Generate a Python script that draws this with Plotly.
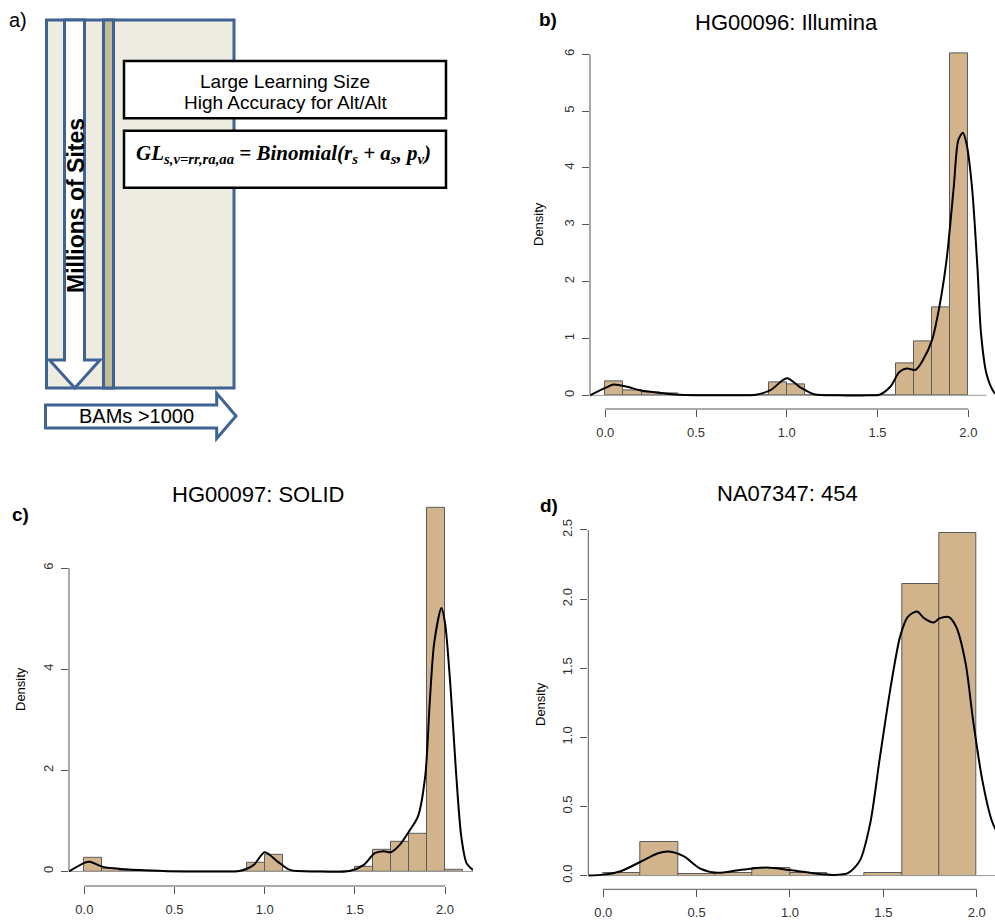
import plotly.graph_objects as go

W, H = 995, 923

# ---------------- data ----------------
# b) HG00096: Illumina  (bin width 0.1, edges 0.0 .. 2.0)
b_edges = [round(0.1 * i, 2) for i in range(21)]
b_density = [0.25, 0.08, 0.05, 0.03, 0, 0, 0, 0, 0, 0.22,
             0.19, 0, 0, 0, 0, 0, 0.57, 0.94, 1.55, 6.02]
b_kde_x = [-0.084, 0.0, 0.044, 0.12, 0.19, 0.28, 0.41, 0.56, 0.70, 0.83, 0.91, 1.0, 1.07, 1.15,
           1.29, 1.45, 1.51, 1.57, 1.62, 1.66, 1.71, 1.75, 1.80, 1.84, 1.88, 1.92, 1.945,
           1.97, 1.99, 2.02, 2.05, 2.07, 2.10, 2.14, 2.16]
b_kde_y = [0.0, 0.13, 0.19, 0.15, 0.09, 0.05, 0.01, 0.0, 0.0, 0.01, 0.09, 0.30, 0.15, 0.02,
           0.0, 0.0, 0.01, 0.15, 0.41, 0.47, 0.45, 0.62, 0.97, 1.55, 2.38, 3.67, 4.49,
           4.62, 4.43, 3.67, 2.26, 1.09, 0.38, 0.06, 0.0]

# c) HG00097: SOLID  (bin width 0.1, edges 0.0 .. 2.1)
c_edges = [round(0.1 * i, 2) for i in range(22)]
c_density = [0.26, 0.06, 0.02, 0.02, 0, 0, 0, 0, 0, 0.18, 0.33,
             0, 0, 0, 0, 0.085, 0.43, 0.59, 0.74, 7.2, 0.04]
c_kde_x = [-0.085, 0.0, 0.03, 0.105, 0.2, 0.36, 0.55, 0.72, 0.86, 0.94, 1.0, 1.07, 1.14,
           1.29, 1.47, 1.55, 1.61, 1.66, 1.70, 1.75, 1.80, 1.85, 1.89, 1.915, 1.94,
           1.98, 2.0, 2.03, 2.06, 2.09, 2.12, 2.155]
c_kde_y = [0.0, 0.17, 0.19, 0.09, 0.05, 0.02, 0.0, 0.0, 0.01, 0.13, 0.38, 0.20, 0.03,
           0.0, 0.01, 0.13, 0.36, 0.40, 0.38, 0.53, 0.79, 1.09, 1.88, 3.33, 4.52,
           5.21, 4.91, 3.66, 2.01, 0.69, 0.16, 0.03]

# d) NA07347: 454  (bin width 0.2, edges 0.0 .. 2.0)
d_edges = [round(0.2 * i, 2) for i in range(11)]
d_density = [0.02, 0.246, 0.01, 0.017, 0.058, 0.02, 0, 0.017, 2.11, 2.48]
d_kde_x = [-0.08, 0.0, 0.09, 0.2, 0.29, 0.35, 0.43, 0.52, 0.61, 0.73, 0.875, 1.0, 1.125,
           1.23, 1.31, 1.375, 1.43, 1.48, 1.54, 1.59, 1.63, 1.68, 1.72, 1.77, 1.80,
           1.85, 1.89, 1.94, 1.98, 2.03, 2.08, 2.12]
d_kde_y = [0.0, 0.007, 0.03, 0.10, 0.16, 0.174, 0.14, 0.05, 0.02, 0.04, 0.058, 0.04, 0.017,
           0.005, 0.017, 0.11, 0.38, 0.84, 1.37, 1.73, 1.87, 1.91, 1.86, 1.83, 1.86,
           1.87, 1.80, 1.54, 1.13, 0.69, 0.40, 0.28]

x_ticks = [0.0, 0.5, 1.0, 1.5, 2.0]
x_ticktext = ["0.0", "0.5", "1.0", "1.5", "2.0"]
b_yticks = [0, 1, 2, 3, 4, 5, 6]
c_yticks = [0, 2, 4, 6]
d_yticks = [0.0, 0.5, 1.0, 1.5, 2.0, 2.5]
d_yticktext = ["0.0", "0.5", "1.0", "1.5", "2.0", "2.5"]

titles = ["HG00096: Illumina", "HG00097: SOLID", "NA07347: 454"]

# ---------------- styling ----------------
BAR_FILL = "#D2B48C"
BAR_LINE = "#5a5a5a"
AXIS_COL = "#555555"
TICK_FONT = dict(family="Liberation Sans, Arial", size=13, color="#333333")
SANS = "Liberation Sans, Arial"

def pxx(px):
    return px / W

def pxy(py):
    return 1 - py / H

fig = go.Figure()

panels = [
    dict(edges=b_edges, dens=b_density, kx=b_kde_x, ky=b_kde_y, xa="x", ya="y",
         yt=b_yticks, ytt=[str(v) for v in b_yticks],
         xr=[-0.0843, 2.147], yr=[-0.2408, 6.2608],
         xd=[pxx(590), 1.0], yd=[pxy(409), pxy(39.4)], base_end=2.10),
    dict(edges=c_edges, dens=c_density, kx=c_kde_x, ky=c_kde_y, xa="x2", ya="y2",
         yt=c_yticks, ytt=[str(v) for v in c_yticks],
         xr=[-0.085, 2.155], yr=[-0.288, 7.488],
         xd=[pxx(69), pxx(473)], yd=[pxy(886), pxy(492.8)], base_end=2.155),
    dict(edges=d_edges, dens=d_density, kx=d_kde_x, ky=d_kde_y, xa="x3", ya="y3",
         yt=d_yticks, ytt=d_yticktext,
         xr=[-0.080, 2.098], yr=[-0.0992, 2.579],
         xd=[pxx(588.3), 1.0], yd=[pxy(889.3), pxy(519)], base_end=2.098),
]

shapes = []
for i, p in enumerate(panels):
    e = p["edges"]
    centers = [(e[k] + e[k + 1]) / 2 for k in range(len(p["dens"]))]
    widths = [e[k + 1] - e[k] for k in range(len(p["dens"]))]
    # zero line (drawn under bars)
    fig.add_trace(go.Scatter(x=[p["xr"][0], p["base_end"]], y=[0, 0], mode="lines",
                             line=dict(color="#9a9a9a", width=1),
                             xaxis=p["xa"], yaxis=p["ya"], hoverinfo="skip"))
    fig.add_trace(go.Bar(x=centers, y=p["dens"], width=widths,
                         marker=dict(color=BAR_FILL, line=dict(color=BAR_LINE, width=1)),
                         xaxis=p["xa"], yaxis=p["ya"]))
    fig.add_trace(go.Scatter(x=p["kx"], y=p["ky"], mode="lines",
                             line=dict(color="black", width=2, shape="spline", smoothing=0.8),
                             xaxis=p["xa"], yaxis=p["ya"]))
    sfx = "" if i == 0 else str(i + 1)
    fig.update_layout(**{
        "xaxis" + sfx: dict(domain=p["xd"], range=p["xr"], anchor=p["ya"],
                            showline=False, showgrid=False, zeroline=False,
                            ticks="outside", ticklen=7, tickcolor=AXIS_COL, tickwidth=1,
                            tickvals=x_ticks, ticktext=x_ticktext, tickfont=TICK_FONT,
                            ticklabelstandoff=4),
        "yaxis" + sfx: dict(domain=p["yd"], range=p["yr"], anchor=p["xa"],
                            showline=False, showgrid=False, zeroline=False,
                            ticks="outside", ticklen=7, tickcolor=AXIS_COL, tickwidth=1,
                            tickvals=p["yt"], ticktext=p["ytt"], tickangle=-90,
                            tickfont=TICK_FONT, ticklabelstandoff=3),
    })
    # R-style axis lines spanning only the tick range
    shapes.append(dict(type="line", xref=p["xa"], yref=p["ya"] + " domain",
                       x0=x_ticks[0], x1=x_ticks[-1], y0=0, y1=0,
                       line=dict(color=AXIS_COL, width=1)))
    shapes.append(dict(type="line", xref=p["xa"] + " domain", yref=p["ya"],
                       x0=0, x1=0, y0=p["yt"][0], y1=p["yt"][-1],
                       line=dict(color=AXIS_COL, width=1)))

# ---------------- panel a diagram ----------------
BLUE = "#3E6394"
BEIGE = "#EEECE1"
TANSTRIP = "#C4BD97"

def rect(x0, y0, x1, y1, fill, color, width):
    return dict(type="rect", xref="paper", yref="paper",
                x0=pxx(x0), x1=pxx(x1), y0=pxy(y1), y1=pxy(y0),
                fillcolor=fill, line=dict(color=color, width=width), layer="above")

def path(pts, fill, color, width):
    d = "M " + " L ".join(f"{pxx(a):.5f},{pxy(b):.5f}" for a, b in pts) + " Z"
    return dict(type="path", xref="paper", yref="paper", path=d,
                fillcolor=fill, line=dict(color=color, width=width), layer="above")

shapes.append(rect(46.5, 20, 234, 388, BEIGE, BLUE, 3))
shapes.append(path([(64.5, 20), (84.5, 20), (84.5, 360), (100, 360), (74.8, 388),
                    (49.5, 360), (64.5, 360)], "white", BLUE, 3))
shapes.append(rect(103.5, 20, 113.5, 388, TANSTRIP, BLUE, 3))
shapes.append(rect(124, 61, 446, 118.3, "white", "black", 2.5))
shapes.append(rect(124, 130.7, 446, 187.7, "white", "black", 2.5))
shapes.append(path([(45.5, 405), (216.7, 405), (216.7, 393.3), (236, 416),
                    (216.7, 438.5), (216.7, 428), (45.5, 428)], "white", BLUE, 3))

annotations = []

def text(px, py, s, size, family=SANS, color="black", angle=0, **kw):
    annotations.append(dict(x=pxx(px), y=pxy(py), xref="paper", yref="paper",
                            text=s, showarrow=False, textangle=angle,
                            xanchor="center", yanchor="middle",
                            font=dict(family=family, size=size, color=color), **kw))

text(285, 81, "Large Learning Size", 19)
text(285, 102, "High Accuracy for Alt/Alt", 19)
text(283, 154, "<b><i>GL<sub>s,v=rr,ra,aa</sub> = Binomial(r<sub>s</sub> + a<sub>s</sub>, "
               "p<sub>v</sub>)</i></b>", 21, family="Liberation Serif, Times New Roman")
text(76, 206, "<b>Millions of Sites</b>", 23, angle=-90)
text(136.5, 416, "BAMs >1000", 20)

# panel letters
text(18, 20, "a)", 20)
text(548, 19, "<b>b)</b>", 19)
text(20, 514, "<b>c)</b>", 19)
text(549, 505, "<b>d)</b>", 19)

# titles
text(786.7, 22, titles[0], 22)
text(258.3, 495, titles[1], 22)
text(787.3, 494, titles[2], 22)

# y-axis labels
text(538, 224, "Density", 13, angle=-90)
text(20, 689, "Density", 13, angle=-90)
text(540, 704, "Density", 13, angle=-90)

fig.update_layout(width=W, height=H, margin=dict(l=0, r=0, t=0, b=0),
                  paper_bgcolor="white", plot_bgcolor="white", showlegend=False,
                  bargap=0, shapes=shapes, annotations=annotations)

fig.write_html("out.html", config={"displayModeBar": False},
               post_script="document.body.style.margin='0';document.body.style.padding='0';")
